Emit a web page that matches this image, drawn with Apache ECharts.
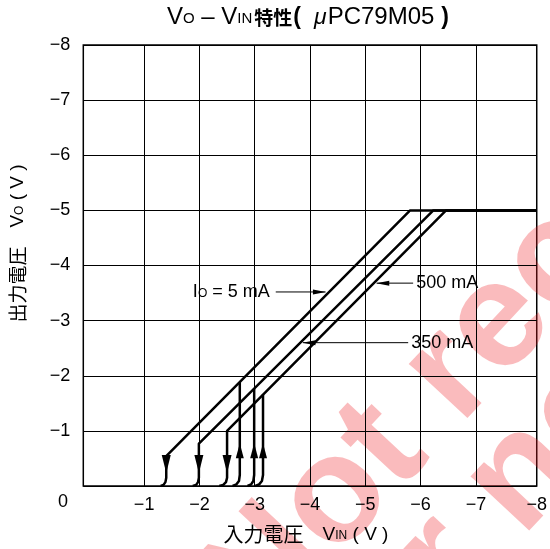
<!DOCTYPE html>
<html><head><meta charset="utf-8">
<script src="https://cdn.jsdelivr.net/npm/echarts@6/dist/echarts.min.js"></script>
<style>html,body{margin:0;padding:0;background:#fff}#c{width:550px;height:549px}</style>
</head><body><div id="c"></div>
<script>
// ---- axis ticks / labels ----
const xGridValues = [-1, -2, -3, -4, -5, -6, -7];
const xLabelValues = [-1, -2, -3, -4, -5, -6, -7, -8.1];
const xLabelTexts = ['−1', '−2', '−3', '−4', '−5', '−6', '−7', '−8'];
const yLabelValues = [-1, -2, -3, -4, -5, -6, -7, -8];
const yLabelTexts = ['−1', '−2', '−3', '−4', '−5', '−6', '−7', '−8'];

// ---- curves: [VIN, VO] ----
const io5mAMain = [[-8.1, -5], [-5.81, -5], [-1.40, -0.54], [-1.40, -0.15], [-1.385, -0.07], [-1.35, -0.02], [-1.30, 0]];
const io5mARise = [[-2.60, 0], [-2.67, -0.03], [-2.715, -0.09], [-2.73, -0.2], [-2.73, -1.885]];
const io350mAMain = [[-8.1, -5], [-6.23, -5], [-1.99, -0.77], [-1.99, -0.15], [-1.975, -0.07], [-1.94, -0.02], [-1.88, 0]];
const io350mARise = [[-2.87, 0], [-2.935, -0.03], [-2.975, -0.09], [-2.99, -0.2], [-2.99, -1.77]];
const io500mAMain = [[-8.1, -5], [-6.46, -5], [-2.50, -1.0], [-2.50, -0.15], [-2.48, -0.07], [-2.43, -0.02], [-2.36, 0]];
const io500mARise = [[-3.01, 0], [-3.08, -0.03], [-3.13, -0.09], [-3.15, -0.2], [-3.15, -1.66]];

// ---- direction arrows on curves ----
const downArrows = [[-1.40, -0.40], [-1.99, -0.40], [-2.50, -0.40]];
const upArrows = [[-2.73, -0.64], [-2.99, -0.64], [-3.15, -0.64]];

// ---- annotation pointers ----
const annoTexts = ['{a|I}{s|O}{a| = 5 mA}', '{a|500 mA}', '{a|350 mA}'];
const annoFrom = [[-3.38, -3.52], [-5.865, -3.68], [-5.775, -2.60]];
const annoTip = [[-4.28, -3.52], [-5.205, -3.68], [-3.87, -2.60]];
const annoSide = ['left', 'right', 'right'];

const FONT = '"Liberation Sans", Arial, sans-serif';
const CJK = '"Noto Sans CJK JP", sans-serif';
const BLACK = '#000';
const plain = { textBorderWidth: 0, textShadowBlur: 0, color: BLACK };
const WM_FONT = 'bold 151px "Liberation Sans"';
const WM_FILL = 'rgba(238,30,36,0.3)';

const series = [];
[[io5mAMain, io5mARise], [io350mAMain, io350mARise], [io500mAMain, io500mARise]].forEach(pair => {
  pair.forEach(d => series.push({
    type: 'line', data: d, showSymbol: false, symbol: 'none', silent: true,
    lineStyle: { color: BLACK, width: 2.5 }, z: 3
  }));
});
series.push({
  type: 'scatter', data: downArrows, symbol: 'triangle', symbolSize: [9, 18], symbolRotate: 180,
  itemStyle: { color: BLACK, opacity: 1 }, z: 4, silent: true
});
series.push({
  type: 'scatter', data: upArrows, symbol: 'triangle', symbolSize: [8, 15],
  itemStyle: { color: BLACK, opacity: 1 }, z: 4, silent: true
});
annoFrom.forEach((f, i) => {
  const t = annoTip[i];
  const dir = t[0] < f[0] ? 1 : -1; // 1 = pointing right (more negative)
  series.push({
    type: 'line', data: [f, t], symbol: 'none', silent: true,
    lineStyle: { color: BLACK, width: 1 }, z: 3,
    markPoint: {
      silent: true, symbol: 'circle', symbolSize: 0,
      data: [{
        coord: f,
        label: Object.assign({
          show: true, position: annoSide[i], distance: annoSide[i] === 'left' ? 6 : 3,
          formatter: annoTexts[i],
          rich: {
            a: Object.assign({ fontSize: 18, fontFamily: FONT, verticalAlign: 'bottom' }, plain),
            s: Object.assign({ fontSize: 12, fontFamily: FONT, verticalAlign: 'bottom', padding: [0, 0, 1, 0] }, plain)
          }
        }, plain)
      }]
    }
  });
  series.push({
    type: 'scatter', data: [[t[0] + dir * 0.11, t[1]]], symbol: 'triangle', symbolSize: [5, 13],
    symbolRotate: dir === 1 ? -90 : 90, itemStyle: { color: BLACK, opacity: 1 }, z: 4, silent: true
  });
});

const chart = echarts.init(document.getElementById('c'), null, { renderer: 'canvas' });
chart.setOption({
  animation: false,
  backgroundColor: '#fff',
  title: {
    text: '{v|V}{s|O}{v| – V}{s|IN}{b|特性}{p|(}{m|μ}{v|PC79M05}{q|)}',
    left: 162, top: 0,
    textStyle: {
      fontWeight: 'normal',
      rich: {
        v: { fontSize: 24, fontFamily: FONT, fontWeight: 'normal', color: BLACK, verticalAlign: 'bottom' },
        s: { fontSize: 15, fontFamily: FONT, fontWeight: 'normal', color: BLACK, verticalAlign: 'bottom', padding: [0, 0, 3, 0] },
        b: { fontSize: 19, fontFamily: CJK, fontWeight: 'bold', color: BLACK, verticalAlign: 'bottom', padding: [0, 0, 2, 2] },
        p: { fontSize: 23, fontFamily: FONT, fontWeight: 'bold', color: BLACK, verticalAlign: 'bottom', padding: [0, 0, 0, 1] },
        q: { fontSize: 23, fontFamily: FONT, fontWeight: 'bold', color: BLACK, verticalAlign: 'bottom', padding: [0, 0, 0, 7] },
        m: { fontSize: 23, fontFamily: FONT, fontWeight: 'normal', fontStyle: 'italic', color: BLACK, verticalAlign: 'bottom', padding: [0, 1, 0, 13] }
      }
    }
  },
  grid: { left: 83.3, right: 10.7, top: 45, bottom: 63, show: true, borderColor: BLACK, borderWidth: 1.5 },
  xAxis: {
    type: 'value', min: -8.1, max: 0.1, inverse: true,
    name: '{c|入力電圧}{v|　V}{s|IN}{v| ( V )}',
    nameLocation: 'middle', nameGap: 38,
    nameTextStyle: {
      padding: [0, 8, 0, 0],
      rich: {
        c: { fontSize: 20, fontFamily: CJK, color: BLACK, verticalAlign: 'bottom' },
        v: { fontSize: 19, fontFamily: FONT, color: BLACK, verticalAlign: 'bottom' },
        s: { fontSize: 12, fontFamily: FONT, color: BLACK, verticalAlign: 'bottom', padding: [0, 0, 2, 0] }
      }
    },
    axisLine: { show: false },
    axisTick: { show: false, customValues: xGridValues },
    splitLine: { show: true, lineStyle: { color: BLACK, width: 1 } },
    axisLabel: {
      customValues: xLabelValues, margin: 10, fontSize: 18, fontFamily: FONT, color: BLACK,
      formatter: v => xLabelTexts[xLabelValues.indexOf(v)]
    }
  },
  yAxis: {
    type: 'value', min: -8, max: 0, interval: 1, inverse: true,
    name: '{c|出力電圧}{v|　V}{s|O}{v| ( V )}',
    nameLocation: 'middle', nameGap: 56, nameRotate: 90,
    nameTextStyle: {
      padding: [0, 0, 0, 44],
      rich: {
        c: { fontSize: 19, fontFamily: CJK, color: BLACK, verticalAlign: 'bottom' },
        v: { fontSize: 19, fontFamily: FONT, color: BLACK, verticalAlign: 'bottom' },
        s: { fontSize: 12, fontFamily: FONT, color: BLACK, verticalAlign: 'bottom', padding: [0, 0, 2, 0] }
      }
    },
    axisLine: { show: false },
    axisTick: { show: false },
    splitLine: { show: true, lineStyle: { color: BLACK, width: 1 } },
    axisLabel: {
      customValues: yLabelValues, margin: 13, fontSize: 18, fontFamily: FONT, color: BLACK,
      formatter: v => yLabelTexts[yLabelValues.indexOf(v)] || ''
    }
  },
  graphic: [
    { type: 'text', left: 58, top: 493, z: 10, style: { text: '0', font: '18px ' + FONT, fill: BLACK } },
    {
      type: 'group', x: 263, y: 643, rotation: 47 * Math.PI / 180, z: 100, silent: true,
      children: [
        { type: 'text', x: 0, y: 30, style: { text: 'Not recommended', font: WM_FONT, fill: WM_FILL, textVerticalAlign: 'bottom' } },
        { type: 'text', x: 10, y: 152, style: { text: 'for new design', font: WM_FONT, fill: WM_FILL, textVerticalAlign: 'bottom' } }
      ]
    }
  ],
  series: series
});
</script></body></html>
